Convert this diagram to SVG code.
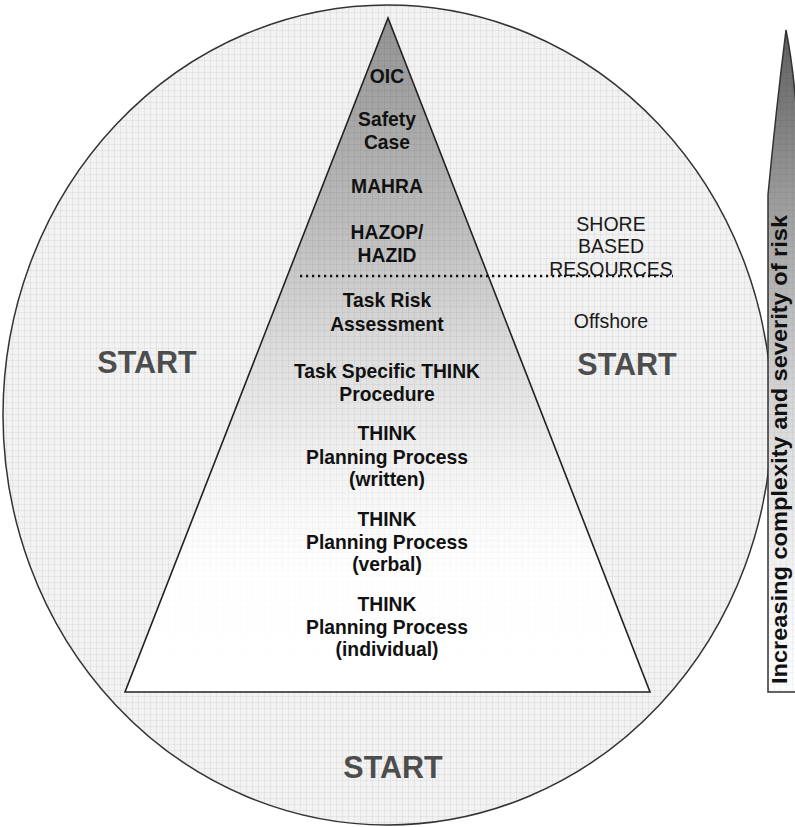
<svg xmlns="http://www.w3.org/2000/svg" width="795" height="827" viewBox="0 0 795 827">
<style>
.pt{font-family:"Liberation Sans",Arial,sans-serif;font-weight:bold;font-size:19.3px;fill:#111;text-anchor:middle}
.st{font-family:"Liberation Sans",Arial,sans-serif;font-weight:bold;font-size:30.5px;fill:#4d4d4d;text-anchor:middle}
.rt{font-family:"Liberation Sans",Arial,sans-serif;font-size:19.5px;fill:#1a1a1a;text-anchor:middle}
.vt{font-family:"Liberation Sans",Arial,sans-serif;font-weight:bold;font-size:22px;fill:#111}
</style>
<defs>
<pattern id="grid" width="6" height="6" patternUnits="userSpaceOnUse">
<path d="M0 0.5H6M0.5 0V6" stroke="#000" stroke-opacity="0.05" stroke-width="1" fill="none"/>
</pattern>
<linearGradient id="triG" gradientUnits="userSpaceOnUse" x1="0" y1="18" x2="0" y2="692">
<stop offset="0" stop-color="#939393"/>
<stop offset="0.3" stop-color="#bcbcbc"/>
<stop offset="0.5" stop-color="#dedede"/>
<stop offset="0.68" stop-color="#f4f4f4"/>
<stop offset="0.82" stop-color="#ffffff"/>
<stop offset="1" stop-color="#ffffff"/>
</linearGradient>
<linearGradient id="triM" gradientUnits="userSpaceOnUse" x1="0" y1="18" x2="0" y2="692">
<stop offset="0" stop-color="#fff"/>
<stop offset="0.6" stop-color="#fff" stop-opacity="0.8"/>
<stop offset="0.85" stop-color="#fff" stop-opacity="0.2"/>
<stop offset="1" stop-color="#fff" stop-opacity="0"/>
</linearGradient>
<mask id="triMask" maskUnits="userSpaceOnUse" x="0" y="0" width="795" height="827">
<rect x="0" y="0" width="795" height="827" fill="url(#triM)"/>
</mask>
<linearGradient id="spikeG" gradientUnits="userSpaceOnUse" x1="0" y1="30" x2="0" y2="692">
<stop offset="0" stop-color="#5e5e5e"/>
<stop offset="0.25" stop-color="#9a9a9a"/>
<stop offset="0.55" stop-color="#d4d4d4"/>
<stop offset="0.85" stop-color="#f6f6f6"/>
<stop offset="1" stop-color="#ffffff"/>
</linearGradient>
</defs>
<rect width="795" height="827" fill="#fff"/>

<g id="background-ellipse">
<ellipse cx="387.5" cy="415" rx="384.5" ry="410" fill="#f2f2f2"/>
<ellipse cx="387.5" cy="415" rx="384.5" ry="410" fill="url(#grid)" stroke="#333" stroke-width="1.5"/>
</g>

<g id="pyramid">
<polygon points="388,18 125,692 650,692" fill="url(#triG)"/>
<polygon points="388,18 125,692 650,692" fill="url(#grid)" mask="url(#triMask)"/>
<polygon points="388,18 125,692 650,692" fill="none" stroke="#222" stroke-width="1.6" stroke-linejoin="miter"/>
</g>

<g id="divider">
<line x1="300" y1="276" x2="673" y2="276" stroke="#111" stroke-width="2.5" stroke-dasharray="2.2 3.8"/>
</g>

<g id="node-oic"><text class="pt" x="387" y="83">OIC</text></g>
<g id="node-safety-case"><text class="pt" x="387" y="126">Safety</text><text class="pt" x="387" y="149">Case</text></g>
<g id="node-mahra"><text class="pt" x="387" y="193">MAHRA</text></g>
<g id="node-hazop"><text class="pt" x="387" y="239">HAZOP/</text><text class="pt" x="387" y="262">HAZID</text></g>
<g id="node-task-risk"><text class="pt" x="387" y="307">Task Risk</text><text class="pt" x="387" y="331">Assessment</text></g>
<g id="node-task-specific"><text class="pt" x="387" y="378">Task Specific THINK</text><text class="pt" x="387" y="401">Procedure</text></g>
<g id="node-think-written"><text class="pt" x="387" y="440">THINK</text><text class="pt" x="387" y="464">Planning Process</text><text class="pt" x="387" y="486">(written)</text></g>
<g id="node-think-verbal"><text class="pt" x="387" y="526">THINK</text><text class="pt" x="387" y="549">Planning Process</text><text class="pt" x="387" y="571">(verbal)</text></g>
<g id="node-think-individual"><text class="pt" x="387" y="611">THINK</text><text class="pt" x="387" y="634">Planning Process</text><text class="pt" x="387" y="656">(individual)</text></g>

<g id="start-left"><text class="st" x="147" y="373">START</text></g>
<g id="start-right"><text class="st" x="627" y="375">START</text></g>
<g id="start-bottom"><text class="st" x="393" y="778">START</text></g>

<g id="shore-based"><text class="rt" x="611" y="231">SHORE</text><text class="rt" x="611" y="253">BASED</text><text class="rt" x="611" y="276">RESOURCES</text></g>
<g id="offshore"><text class="rt" x="611" y="328">Offshore</text></g>

<g id="risk-scale">
<path d="M786 30 Q776 110 768 195 L768 692 L797 692 L797 120 Q794 70 786 30 Z" fill="url(#spikeG)"/>
<path d="M786 30 Q776 110 768 195 L768 692 L797 692 L797 120 Q794 70 786 30 Z" fill="url(#grid)" opacity="0.6"/>
<path d="M797 120 Q794 70 786 30 Q776 110 768 195 L768 692 L797 692" fill="none" stroke="#333" stroke-width="1.5"/>
<text class="vt" transform="translate(787,684) rotate(-90)" x="0" y="0" textLength="469" lengthAdjust="spacingAndGlyphs">Increasing complexity and severity of risk</text>
</g>
</svg>
